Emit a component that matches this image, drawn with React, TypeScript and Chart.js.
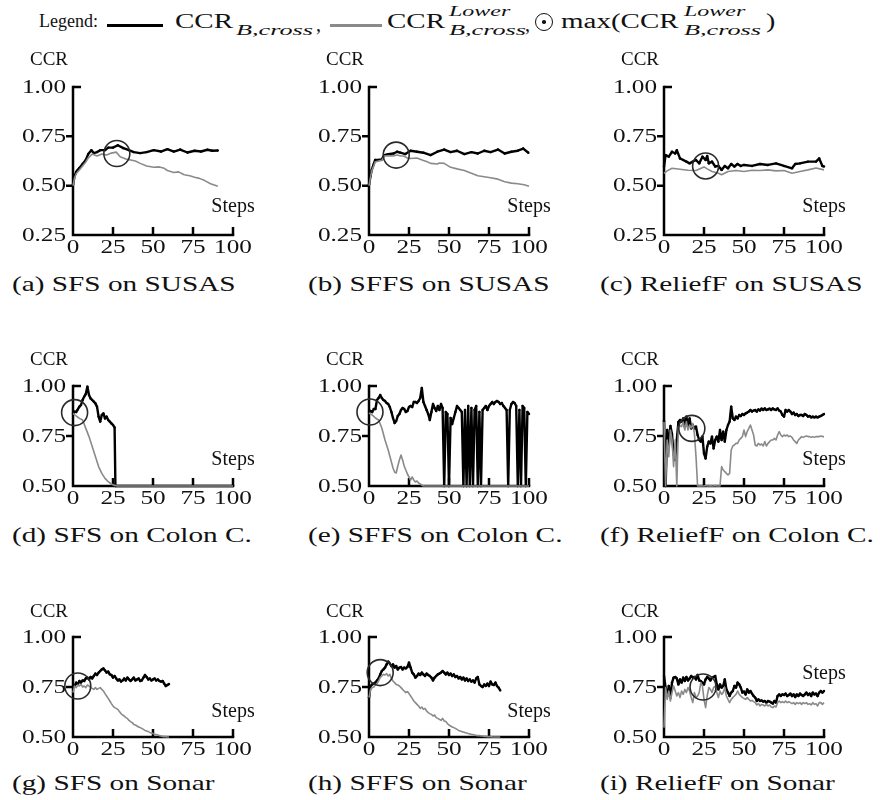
import React, { useEffect, useRef } from "react";
import { Chart, registerables } from "chart.js";

Chart.register(...registerables);

const FONT = '"Liberation Serif", "Times New Roman", serif';

// ---------- axis ticks ----------
const X_TICKS = [0, 25, 50, 75, 100];
const X_TICK_LABELS = ["0", "25", "50", "75", "100"];
const Y_TICKS_SUSAS = [0.25, 0.5, 0.75, 1.0];
const Y_LABELS_SUSAS = ["0.25", "0.50", "0.75", "1.00"];
const Y_TICKS_OTHER = [0.5, 0.75, 1.0];
const Y_LABELS_OTHER = ["0.50", "0.75", "1.00"];

// ---------- (a) SFS on SUSAS ----------
const aCcrSteps = [0, 1, 2, 3, 4, 6, 8, 9.5, 11.5, 13, 15, 17, 20, 22, 25, 28, 31.5, 35, 38, 42, 46, 50.5, 55, 59, 63, 67, 71.5, 76, 80, 84, 87, 90.5];
const aCcr = [0.505, 0.55, 0.57, 0.58, 0.59, 0.61, 0.63, 0.66, 0.68, 0.665, 0.67, 0.68, 0.68, 0.693, 0.693, 0.705, 0.69, 0.68, 0.67, 0.665, 0.67, 0.68, 0.673, 0.685, 0.673, 0.683, 0.668, 0.677, 0.673, 0.682, 0.677, 0.678];
const aLowerSteps = [0, 1, 2, 3, 4, 6, 8, 9.5, 12, 15, 18, 21, 24, 27, 29.5, 33, 36, 39, 42, 46, 50.5, 54, 57, 59, 63, 66, 69.5, 73, 76, 79, 82, 86, 90.5];
const aLower = [0.5, 0.54, 0.56, 0.57, 0.58, 0.6, 0.62, 0.64, 0.66, 0.65, 0.66, 0.655, 0.665, 0.67, 0.647, 0.635, 0.63, 0.625, 0.613, 0.6, 0.593, 0.595, 0.588, 0.577, 0.567, 0.57, 0.555, 0.55, 0.543, 0.537, 0.527, 0.51, 0.497];

// ---------- (b) SFFS on SUSAS ----------
const bCcrSteps = [0, 1, 1.7, 3, 3.8, 5.9, 8, 9.5, 12, 15.4, 17.5, 19.6, 22.7, 26, 30, 34, 38.5, 42.7, 47, 51, 55, 59.6, 64, 68, 72, 76, 80.6, 84.8, 89, 93, 96.4, 99.6];
const bCcr = [0.505, 0.55, 0.58, 0.61, 0.63, 0.63, 0.633, 0.655, 0.66, 0.663, 0.672, 0.667, 0.66, 0.677, 0.672, 0.667, 0.655, 0.672, 0.683, 0.67, 0.677, 0.66, 0.67, 0.663, 0.677, 0.67, 0.683, 0.663, 0.672, 0.677, 0.688, 0.667];
const bLowerSteps = [0, 1, 1.7, 3, 3.8, 5.9, 8, 9.5, 12, 15, 17.5, 20, 21.7, 24, 26, 30, 34, 36, 38.5, 42.7, 44, 47, 51, 55, 59.6, 64, 68, 72, 76, 80.6, 84.8, 89, 93, 97, 100];
const bLower = [0.5, 0.545, 0.575, 0.6, 0.62, 0.625, 0.628, 0.65, 0.652, 0.65, 0.655, 0.65, 0.65, 0.64, 0.638, 0.64, 0.627, 0.622, 0.613, 0.61, 0.615, 0.613, 0.593, 0.585, 0.577, 0.563, 0.55, 0.545, 0.54, 0.533, 0.52, 0.513, 0.51, 0.505, 0.497];

// ---------- (c) ReliefF on SUSAS ----------
const cCcrSteps = [0, 1, 3, 5, 7, 8, 10, 12, 14, 16, 18, 20, 22, 24, 26, 27, 28, 30, 32, 34, 36, 38, 40, 42, 44, 46, 48, 50, 55, 60, 65, 70, 75, 80, 82, 85, 90, 95, 97, 99, 100];
const cCcr = [0.597, 0.655, 0.647, 0.672, 0.663, 0.68, 0.638, 0.63, 0.622, 0.613, 0.622, 0.63, 0.613, 0.647, 0.63, 0.65, 0.613, 0.622, 0.597, 0.6, 0.58, 0.6, 0.588, 0.61, 0.597, 0.61, 0.6, 0.605, 0.6, 0.61, 0.605, 0.613, 0.6, 0.588, 0.61, 0.613, 0.622, 0.622, 0.638, 0.6, 0.597];
const cLowerSteps = [0, 2, 5, 10, 15, 20, 25, 27, 30, 34, 36, 40, 45, 50, 55, 60, 65, 70, 75, 80, 85, 90, 95, 100];
const cLower = [0.563, 0.575, 0.588, 0.583, 0.578, 0.577, 0.595, 0.585, 0.572, 0.563, 0.555, 0.572, 0.577, 0.572, 0.578, 0.577, 0.58, 0.575, 0.577, 0.563, 0.572, 0.58, 0.59, 0.58];

// ---------- (d) SFS on Colon C. ----------
const dCcrSteps = [0, 1, 2, 3, 4, 5, 6, 7, 8, 9, 10, 11, 12, 13, 14, 15, 16, 17, 18, 19, 20, 21, 22, 23, 24, 25, 26, 26.5, 100];
const dCcr = [0.863, 0.872, 0.87, 0.883, 0.897, 0.905, 0.93, 0.947, 0.96, 0.997, 0.955, 0.938, 0.93, 0.922, 0.913, 0.897, 0.847, 0.822, 0.855, 0.863, 0.838, 0.847, 0.83, 0.822, 0.813, 0.805, 0.793, 0.5, 0.5];
const dLowerSteps = [0, 2, 4, 6, 8, 10, 12, 14, 16, 18, 20, 22, 24, 26, 28, 100];
const dLower = [0.863, 0.85, 0.838, 0.83, 0.788, 0.747, 0.697, 0.647, 0.597, 0.563, 0.538, 0.522, 0.51, 0.503, 0.5, 0.5];

// ---------- (e) SFFS on Colon C. (one value per step) ----------
const eCcr = [
  0.87, 0.875, 0.87, 0.885, 0.885, 0.93, 0.94, 0.955, 0.94, 0.93,
  0.925, 0.915, 0.91, 0.895, 0.87, 0.84, 0.815, 0.825, 0.85, 0.86,
  0.88, 0.89, 0.885, 0.87, 0.875, 0.895, 0.9, 0.895, 0.92, 0.92,
  0.915, 0.925, 0.94, 0.99, 0.92, 0.9, 0.88, 0.86, 0.83, 0.87,
  0.91, 0.89, 0.875, 0.9, 0.88, 0.91, 0.89, 0.5, 0.87, 0.86,
  0.5, 0.84, 0.81, 0.84, 0.87, 0.9, 0.89, 0.88, 0.87, 0.5,
  0.88, 0.5, 0.9, 0.5, 0.89, 0.5, 0.88, 0.9, 0.5, 0.87,
  0.5, 0.88, 0.89, 0.9, 0.88, 0.9, 0.91, 0.92, 0.91, 0.92,
  0.925, 0.92, 0.91, 0.915, 0.9, 0.89, 0.88, 0.5, 0.88, 0.91,
  0.92, 0.915, 0.9, 0.5, 0.88, 0.5, 0.9, 0.89, 0.5, 0.87,
  0.86,
];
const eLowerSteps = [0, 1, 2, 3, 4, 5, 6, 7, 8, 9, 10, 11, 12, 13, 14, 15, 16, 17, 18, 19, 20, 21, 22, 23, 24, 25, 26, 27, 28, 29, 30, 31, 32, 33, 34, 100];
const eLower = [0.865, 0.86, 0.855, 0.848, 0.84, 0.835, 0.83, 0.81, 0.79, 0.76, 0.73, 0.705, 0.68, 0.65, 0.62, 0.59, 0.57, 0.565, 0.6, 0.63, 0.655, 0.63, 0.6, 0.58, 0.56, 0.545, 0.53, 0.545, 0.53, 0.52, 0.525, 0.515, 0.51, 0.505, 0.5, 0.5];

// ---------- (f) ReliefF on Colon C. (one value per step) ----------
const fCcr = [
  0.83, 0.5, 0.78, 0.7, 0.8, 0.76, 0.66, 0.63, 0.73, 0.82,
  0.83, 0.822, 0.838, 0.797, 0.847, 0.797, 0.838, 0.788, 0.805, 0.788,
  0.797, 0.755, 0.73, 0.722, 0.747, 0.663, 0.638, 0.697, 0.722, 0.713,
  0.747, 0.688, 0.73, 0.747, 0.722, 0.78, 0.73, 0.772, 0.722, 0.78,
  0.805, 0.822, 0.897, 0.838, 0.83, 0.847, 0.838, 0.855, 0.85, 0.86,
  0.855, 0.863, 0.867, 0.872, 0.88, 0.872, 0.877, 0.88, 0.872, 0.883,
  0.877, 0.887, 0.88, 0.888, 0.88, 0.883, 0.887, 0.88, 0.888, 0.883,
  0.88, 0.888, 0.877, 0.872, 0.855, 0.847, 0.88, 0.872, 0.88, 0.872,
  0.86, 0.867, 0.855, 0.86, 0.85, 0.855, 0.855, 0.85, 0.86, 0.855,
  0.847, 0.85, 0.843, 0.847, 0.843, 0.847, 0.843, 0.847, 0.85, 0.855,
  0.86,
];
const fLower = [
  0.82, 0.5, 0.73, 0.647, 0.78, 0.73, 0.597, 0.73, 0.5, 0.797,
  0.8, 0.797, 0.82, 0.78, 0.822, 0.78, 0.805, 0.79, 0.813, 0.763,
  0.647, 0.5, 0.5, 0.502, 0.5, 0.5, 0.503, 0.5, 0.5, 0.502,
  0.5, 0.5, 0.503, 0.5, 0.5, 0.5, 0.597, 0.58, 0.572, 0.563,
  0.555, 0.563, 0.68, 0.7, 0.705, 0.713, 0.713, 0.73, 0.738, 0.747,
  0.78, 0.747, 0.772, 0.788, 0.805, 0.78, 0.755, 0.705, 0.7, 0.713,
  0.705, 0.71, 0.7, 0.722, 0.7, 0.713, 0.722, 0.73, 0.73, 0.738,
  0.73, 0.755, 0.772, 0.755, 0.747, 0.755, 0.75, 0.755, 0.747, 0.75,
  0.743, 0.73, 0.722, 0.713, 0.73, 0.738, 0.747, 0.743, 0.747, 0.75,
  0.747, 0.747, 0.743, 0.747, 0.743, 0.747, 0.747, 0.747, 0.75, 0.747,
  0.747,
];

// ---------- (g) SFS on Sonar (one value per step) ----------
const gCcr = [
  0.747, 0.755, 0.772, 0.763, 0.78, 0.772, 0.783, 0.78, 0.793, 0.797,
  0.788, 0.8, 0.793, 0.805, 0.817, 0.81, 0.822, 0.83, 0.838, 0.843,
  0.833, 0.822, 0.827, 0.813, 0.81, 0.797, 0.805, 0.793, 0.783, 0.788,
  0.777, 0.783, 0.793, 0.783, 0.797, 0.788, 0.78, 0.788, 0.797, 0.783,
  0.788, 0.793, 0.78, 0.783, 0.797, 0.81, 0.8, 0.788, 0.793, 0.783,
  0.788, 0.793, 0.783, 0.788, 0.78, 0.777, 0.78, 0.767, 0.755, 0.76,
  0.765,
];
const gLower = [
  0.722, 0.755, 0.747, 0.76, 0.755, 0.763, 0.75, 0.755, 0.747, 0.76,
  0.755, 0.747, 0.743, 0.738, 0.747, 0.738, 0.743, 0.747, 0.738, 0.73,
  0.717, 0.705, 0.693, 0.68, 0.667, 0.655, 0.647, 0.643, 0.638, 0.627,
  0.617, 0.61, 0.605, 0.597, 0.593, 0.583, 0.577, 0.572, 0.563, 0.56,
  0.555, 0.55, 0.547, 0.543, 0.538, 0.533, 0.53, 0.527, 0.523, 0.52,
  0.517, 0.513, 0.512, 0.51, 0.507, 0.505, 0.503, 0.502, 0.502, 0.5,
  0.5,
];

// ---------- (h) SFFS on Sonar (one value per step) ----------
const hCcr = [
  0.697, 0.755, 0.763, 0.767, 0.772, 0.783, 0.793, 0.813, 0.83, 0.838,
  0.847, 0.863, 0.877, 0.867, 0.855, 0.863, 0.847, 0.855, 0.838, 0.847,
  0.85, 0.838, 0.847, 0.843, 0.85, 0.872, 0.847, 0.822, 0.813, 0.797,
  0.805, 0.817, 0.81, 0.822, 0.813, 0.805, 0.817, 0.81, 0.805, 0.797,
  0.783, 0.797, 0.805, 0.813, 0.817, 0.822, 0.83, 0.822, 0.813, 0.822,
  0.81, 0.817, 0.805, 0.813, 0.8, 0.805, 0.793, 0.8, 0.788, 0.797,
  0.783, 0.793, 0.78, 0.788, 0.777, 0.783, 0.772, 0.793, 0.8, 0.763,
  0.755, 0.75, 0.763, 0.755, 0.767, 0.755, 0.777, 0.763, 0.76, 0.772,
  0.755, 0.747, 0.733,
];
const hLower = [
  0.697, 0.738, 0.747, 0.75, 0.76, 0.767, 0.78, 0.797, 0.805, 0.813,
  0.81, 0.817, 0.805, 0.813, 0.793, 0.78, 0.772, 0.763, 0.76, 0.755,
  0.747, 0.738, 0.73, 0.722, 0.727, 0.717, 0.705, 0.693, 0.68, 0.672,
  0.663, 0.655, 0.643, 0.65, 0.638, 0.643, 0.63, 0.622, 0.617, 0.613,
  0.605, 0.61, 0.597, 0.593, 0.588, 0.583, 0.593, 0.58, 0.577, 0.567,
  0.56, 0.555, 0.55, 0.547, 0.543, 0.538, 0.533, 0.53, 0.527, 0.525,
  0.522, 0.52, 0.517, 0.515, 0.513, 0.512, 0.51, 0.508, 0.507, 0.507,
  0.505, 0.505, 0.503, 0.503, 0.502, 0.502, 0.502, 0.5, 0.5, 0.5,
  0.5, 0.5, 0.5,
];

// ---------- (i) ReliefF on Sonar (one value per step) ----------
const iCcr = [
  0.805, 0.747, 0.705, 0.755, 0.697, 0.772, 0.797, 0.8, 0.793, 0.763,
  0.788, 0.772, 0.797, 0.78, 0.8, 0.783, 0.793, 0.805, 0.797, 0.8,
  0.788, 0.81, 0.783, 0.78, 0.772, 0.763, 0.788, 0.8, 0.793, 0.783,
  0.797, 0.8, 0.805, 0.763, 0.738, 0.763, 0.747, 0.755, 0.788, 0.738,
  0.722, 0.705, 0.722, 0.73, 0.755, 0.747, 0.772, 0.763, 0.747, 0.722,
  0.727, 0.713, 0.738, 0.722, 0.73, 0.717, 0.705, 0.697, 0.68, 0.688,
  0.68, 0.683, 0.677, 0.68, 0.672, 0.68, 0.677, 0.672, 0.667, 0.68,
  0.672, 0.705, 0.713, 0.705, 0.713, 0.71, 0.717, 0.705, 0.71, 0.717,
  0.705, 0.713, 0.7, 0.713, 0.705, 0.717, 0.71, 0.705, 0.713, 0.722,
  0.71, 0.717, 0.705, 0.722, 0.713, 0.717, 0.705, 0.722, 0.73, 0.722,
  0.73,
];
const iLower = [
  0.547, 0.747, 0.688, 0.73, 0.68, 0.722, 0.755, 0.73, 0.705, 0.722,
  0.697, 0.73, 0.713, 0.738, 0.722, 0.747, 0.73, 0.697, 0.672, 0.722,
  0.697, 0.705, 0.722, 0.772, 0.755, 0.688, 0.647, 0.705, 0.747, 0.738,
  0.722, 0.747, 0.755, 0.722, 0.697, 0.73, 0.713, 0.722, 0.747, 0.705,
  0.688, 0.672, 0.688, 0.697, 0.705, 0.713, 0.73, 0.713, 0.705, 0.697,
  0.693, 0.688, 0.697, 0.688, 0.68, 0.683, 0.677, 0.672, 0.66, 0.667,
  0.655, 0.663, 0.66, 0.655, 0.663, 0.655, 0.66, 0.65, 0.647, 0.655,
  0.65, 0.672, 0.68, 0.672, 0.677, 0.672, 0.68, 0.672, 0.677, 0.672,
  0.667, 0.672, 0.663, 0.672, 0.667, 0.672, 0.663, 0.672, 0.667, 0.672,
  0.663, 0.667, 0.66, 0.672, 0.663, 0.667, 0.655, 0.672, 0.672, 0.663,
  0.672,
];

// ---------- maxima of the lower bound (circled) ----------
const MAX_STEP = [27.4, 17, 26, 1, 0.6, 17.4, 3, 7, 24.4];
const MAX_CCR = [0.663, 0.655, 0.6, 0.867, 0.87, 0.788, 0.755, 0.822, 0.75];

const CAPTIONS = [
  "(a) SFS on SUSAS", "(b) SFFS on SUSAS", "(c) ReliefF on SUSAS",
  "(d) SFS on Colon C.", "(e) SFFS on Colon C.", "(f) ReliefF on Colon C.",
  "(g) SFS on Sonar", "(h) SFFS on Sonar", "(i) ReliefF on Sonar",
];

type Series = { steps: number[] | null; values: number[] };
const PANEL_SERIES: { ccr: Series; lower: Series }[] = [
  { ccr: { steps: aCcrSteps, values: aCcr }, lower: { steps: aLowerSteps, values: aLower } },
  { ccr: { steps: bCcrSteps, values: bCcr }, lower: { steps: bLowerSteps, values: bLower } },
  { ccr: { steps: cCcrSteps, values: cCcr }, lower: { steps: cLowerSteps, values: cLower } },
  { ccr: { steps: dCcrSteps, values: dCcr }, lower: { steps: dLowerSteps, values: dLower } },
  { ccr: { steps: null, values: eCcr }, lower: { steps: eLowerSteps, values: eLower } },
  { ccr: { steps: null, values: fCcr }, lower: { steps: null, values: fLower } },
  { ccr: { steps: null, values: gCcr }, lower: { steps: null, values: gLower } },
  { ccr: { steps: null, values: hCcr }, lower: { steps: null, values: hLower } },
  { ccr: { steps: null, values: iCcr }, lower: { steps: null, values: iLower } },
];

// ---------- layout ----------
const COL_AXIS_X = [73, 369, 664];
const ROW_AREA_TOP = [87, 386, 637];
const ROW_AREA_BOTTOM = [235, 486, 737];
const ROW_CCR_Y = [58, 358, 610];
const ROW_CAPTION_Y = [284, 535, 783];
const CAPTION_X = [12, 308, 600];
const STEPS_Y: (number | null)[] = [205, 205, 205, 458, null, 458, 710, 710, 672];
const Y_AXIS_W = 73;
const AREA_W = 160;
const CANVAS_W = 280;
const PAD_TOP = 24;
const X_AXIS_H = 30;
const TICK_FONT = '18px "Liberation Serif", "DejaVu Serif", serif';
const TICK_SX = 1.4;

const toPoints = (s: Series) => s.values.map((v, i) => ({ x: s.steps ? s.steps[i] : i, y: v }));

function drawStretched(ctx: CanvasRenderingContext2D, text: string, x: number, y: number, align: CanvasTextAlign) {
  ctx.save();
  ctx.translate(x, y);
  ctx.scale(TICK_SX, 1);
  ctx.textAlign = align;
  ctx.textBaseline = "middle";
  ctx.fillText(text, 0, 0);
  ctx.restore();
}

function Panel({ idx }: { idx: number }) {
  const ref = useRef<HTMLCanvasElement | null>(null);
  const row = Math.floor(idx / 3);
  const col = idx % 3;
  const areaTop = ROW_AREA_TOP[row];
  const areaBottom = ROW_AREA_BOTTOM[row];
  const H = PAD_TOP + (areaBottom - areaTop) + X_AXIS_H;

  useEffect(() => {
    const yTicks = row === 0 ? Y_TICKS_SUSAS : Y_TICKS_OTHER;
    const yLabels = row === 0 ? Y_LABELS_SUSAS : Y_LABELS_OTHER;
    const yMin = yTicks[0];
    const yMax = yTicks[yTicks.length - 1];
    const series = PANEL_SERIES[idx];

    const paperAxes = {
      id: "paperAxes",
      beforeDatasetsDraw(chart: any) {
        const { ctx, scales } = chart;
        const xs = scales.x;
        const ys = scales.y;
        const x0 = xs.getPixelForValue(X_TICKS[0]);
        const x1 = xs.getPixelForValue(X_TICKS[X_TICKS.length - 1]);
        const yT = ys.getPixelForValue(yMax);
        const yB = ys.getPixelForValue(yMin);
        ctx.save();
        ctx.strokeStyle = "#000";
        ctx.lineWidth = 2.5;
        ctx.lineCap = "square";
        ctx.beginPath();
        ctx.moveTo(x0, yT);
        ctx.lineTo(x0, yB);
        ctx.lineTo(x1, yB);
        ctx.stroke();
        ctx.lineCap = "butt";
        ctx.beginPath();
        yTicks.forEach((t) => {
          if (t === yMin) return;
          const py = ys.getPixelForValue(t);
          if (t === yMax) {
            ctx.moveTo(x0, py);
            ctx.lineTo(x0 + 8, py);
          } else {
            ctx.moveTo(x0 - 7, py);
            ctx.lineTo(x0, py);
          }
        });
        X_TICKS.forEach((t) => {
          if (t === X_TICKS[0]) return;
          const px = xs.getPixelForValue(t);
          ctx.moveTo(px, yB);
          ctx.lineTo(px, yB - 8);
        });
        ctx.stroke();
        ctx.fillStyle = "#111";
        ctx.font = TICK_FONT;
        yTicks.forEach((t, k) => {
          drawStretched(ctx, yLabels[k], x0 - 7, ys.getPixelForValue(t) + 1, "right");
        });
        X_TICKS.forEach((t, k) => {
          drawStretched(ctx, X_TICK_LABELS[k], xs.getPixelForValue(t), yB + 13, "center");
        });
        ctx.restore();
      },
    };

    const chart = new Chart(ref.current as HTMLCanvasElement, {
      type: "line",
      data: {
        datasets: [
          {
            label: "max(CCR lower)",
            data: [{ x: MAX_STEP[idx], y: MAX_CCR[idx] }],
            showLine: false,
            pointRadius: 13,
            pointBorderWidth: 1.6,
            pointBorderColor: "#2a2a2a",
            pointBackgroundColor: "rgba(0,0,0,0)",
            order: 1,
            clip: false,
          } as any,
          {
            label: "CCR lower",
            data: toPoints(series.lower),
            borderColor: "#8a8a8a",
            borderWidth: 1.6,
            pointRadius: 0,
            tension: 0,
            borderJoinStyle: "round",
            order: 2,
            clip: false,
          } as any,
          {
            label: "CCR",
            data: toPoints(series.ccr),
            borderColor: "#000",
            borderWidth: 2.4,
            pointRadius: 1.2,
            pointBorderWidth: 0,
            pointBackgroundColor: "#000",
            tension: 0,
            borderJoinStyle: "round",
            order: 3,
            clip: false,
          } as any,
        ],
      },
      options: {
        animation: false,
        responsive: false,
        maintainAspectRatio: false,
        devicePixelRatio: 1,
        events: [],
        layout: { padding: { top: PAD_TOP, right: CANVAS_W - Y_AXIS_W - AREA_W, left: 0, bottom: 0 } },
        plugins: { legend: { display: false }, tooltip: { enabled: false } },
        scales: {
          x: {
            type: "linear",
            min: X_TICKS[0],
            max: X_TICKS[X_TICKS.length - 1],
            ticks: { display: false, stepSize: 25 },
            grid: { display: false },
            border: { display: false },
            afterFit: (s: any) => { s.height = X_AXIS_H; },
          },
          y: {
            type: "linear",
            min: yMin,
            max: yMax,
            ticks: { display: false, stepSize: 0.25 },
            grid: { display: false },
            border: { display: false },
            afterFit: (s: any) => { s.width = Y_AXIS_W; },
          },
        },
      } as any,
      plugins: [paperAxes],
    });
    return () => chart.destroy();
  }, []);

  return (
    <canvas
      ref={ref}
      width={CANVAS_W}
      height={H}
      style={{ position: "absolute", left: COL_AXIS_X[col] - Y_AXIS_W, top: areaTop - PAD_TOP, width: CANVAS_W, height: H }}
    />
  );
}

function Txt(props: { x: number; y: number; size: number; text: string; align?: "left" | "center"; sx?: number; italic?: boolean }) {
  const { x, y, size, text, align = "left", sx = 1, italic = false } = props;
  const tx = align === "center" ? "-50%" : "0";
  return (
    <div
      style={{
        position: "absolute",
        left: x,
        top: y,
        whiteSpace: "nowrap",
        fontFamily: FONT,
        fontSize: size,
        lineHeight: 1,
        fontStyle: italic ? "italic" : "normal",
        color: "#111",
        transform: `translate(${tx}, -50%) scaleX(${sx})`,
        transformOrigin: align === "center" ? "center" : "left center",
      }}
    >
      {text}
    </div>
  );
}

function Legend() {
  return (
    <>
      <Txt x={39} y={21} size={18} text="Legend:" />
      <div style={{ position: "absolute", left: 107, top: 24, width: 56, height: 2.5, background: "#000" }} />
      <Txt x={175} y={21} size={20} text="CCR" sx={1.45} />
      <Txt x={236} y={30} size={15} text="B,cross" sx={1.75} italic />
      <Txt x={316} y={24} size={20} text="," />
      <div style={{ position: "absolute", left: 330, top: 24, width: 52, height: 2.5, background: "#8a8a8a" }} />
      <Txt x={387} y={21} size={20} text="CCR" sx={1.45} />
      <Txt x={449} y={11} size={15} text="Lower" sx={1.6} italic />
      <Txt x={449} y={30} size={15} text="B,cross" sx={1.75} italic />
      <Txt x={525} y={24} size={20} text="," />
      <div style={{ position: "absolute", left: 535, top: 13, width: 16, height: 16, border: "1.5px solid #111", borderRadius: "50%" }} />
      <div style={{ position: "absolute", left: 542.2, top: 20.2, width: 3.6, height: 3.6, background: "#111", borderRadius: "50%" }} />
      <Txt x={561} y={21} size={20} text="max(CCR" sx={1.45} />
      <Txt x={684} y={11} size={15} text="Lower" sx={1.6} italic />
      <Txt x={684} y={30} size={15} text="B,cross" sx={1.75} italic />
      <Txt x={766} y={21} size={20} text=")" sx={1.4} />
    </>
  );
}

export default function App() {
  return (
    <div style={{ position: "absolute", left: 0, top: 0, width: 880, height: 800, overflow: "hidden", background: "#fff" }}>
      <Legend />
      {CAPTIONS.map((cap, idx) => {
        const row = Math.floor(idx / 3);
        const col = idx % 3;
        const sy = STEPS_Y[idx];
        return (
          <React.Fragment key={cap}>
            <Panel idx={idx} />
            <Txt x={COL_AXIS_X[col] - 24} y={ROW_CCR_Y[row]} size={19} text="CCR" align="center" />
            {sy !== null && <Txt x={COL_AXIS_X[col] + AREA_W} y={sy} size={20} text="Steps" align="center" />}
            <Txt x={CAPTION_X[col]} y={ROW_CAPTION_Y[row]} size={22} text={cap} sx={1.33} />
          </React.Fragment>
        );
      })}
    </div>
  );
}
